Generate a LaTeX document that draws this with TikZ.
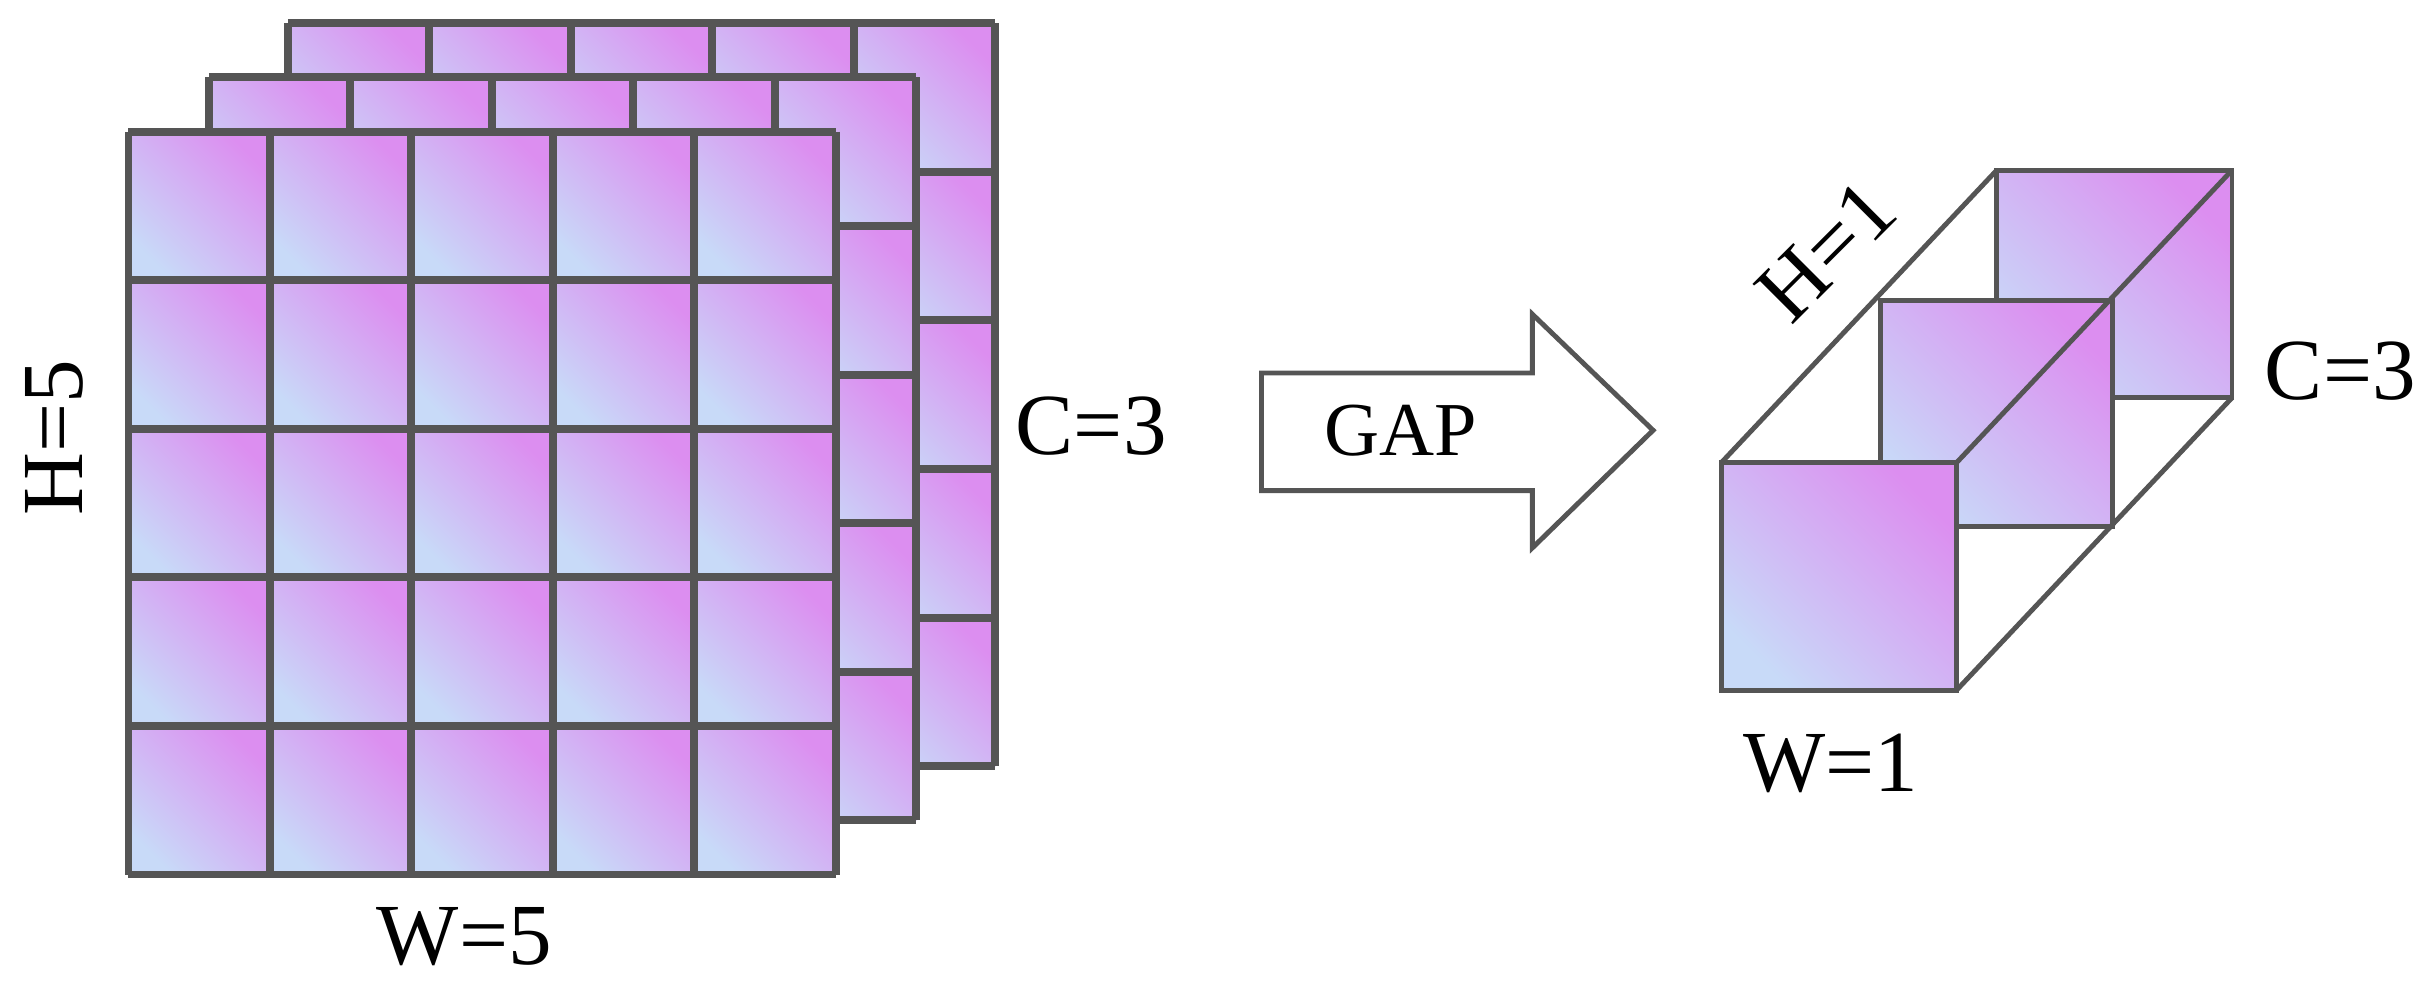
\documentclass[tikz,border=0pt]{standalone}
\usepackage{fontspec}
\setmainfont{Liberation Serif}
\begin{document}
\begin{tikzpicture}[x=0.01cm,y=0.01cm,
  cell/.style={shading=axis,top color=pinkc,bottom color=bluec,shading angle=-45},
  grid/.style={draw=edge,line width=1.45pt},
  wire/.style={draw=edge,line width=0.9pt},
  lab/.style={font=\fontsize{16}{16}\selectfont,inner sep=0pt}]
\definecolor{pinkc}{HTML}{DC8EF0}
\definecolor{bluec}{HTML}{C8DAF8}
\definecolor{edge}{HTML}{555555}
\useasboundingbox (0,0) rectangle (1568,-640);
% three layers
\foreach \dx/\dy in {103/-70,52/-35,0/0}{
  \foreach \i in {0,...,4}{
    \foreach \j in {0,...,4}{
      \path[cell] ({83+\dx+\i*91.4},{-(85+\dy+\j*96)}) rectangle ({83+\dx+(\i+1)*91.4},{-(85+\dy+(\j+1)*96)});
    }}
  \foreach \i in {0,...,5}{
    \draw[grid] ({83+\dx+\i*91.4},{-(85+\dy)}) -- ({83+\dx+\i*91.4},{-(565+\dy)});
    \draw[grid] ({83+\dx},{-(85+\dy+\i*96)}) -- ({540+\dx},{-(85+\dy+\i*96)});
  }
}
\node[lab,rotate=90] (h5) at (35,-283) {H=5};
\node[lab] (w5) at (300,-605) {W=5};
\node[lab] (c3) at (705,-275) {C=3};
% GAP arrow
\draw[wire,fill=white] (815,-241) -- (990,-241) -- (990,-203) -- (1068,-278) -- (990,-354) -- (990,-317) -- (815,-317) -- cycle;
\node[font=\fontsize{14}{14}\selectfont] (gap) at (905,-278) {GAP};
% cube
\path[cell] (1290,-110) rectangle (1442,-257);
\draw[wire] (1290,-110) rectangle (1442,-257);
\path[cell] (1215,-194) rectangle (1365,-340);
\draw[wire] (1215,-194) rectangle (1365,-340);
\path[cell] (1112,-299) rectangle (1264,-446);
\draw[wire] (1112,-299) rectangle (1264,-446);
\draw[wire] (1112,-299) -- (1290,-110);
\draw[wire] (1264,-299) -- (1442,-110);
\draw[wire] (1264,-446) -- (1442,-257);
\node[lab,rotate=45] (h1) at (1180,-162) {H=1};
\node[lab] (c31) at (1512,-240) {C=3};
\node[lab] (w1) at (1183,-493) {W=1};
\end{tikzpicture}
\end{document}
